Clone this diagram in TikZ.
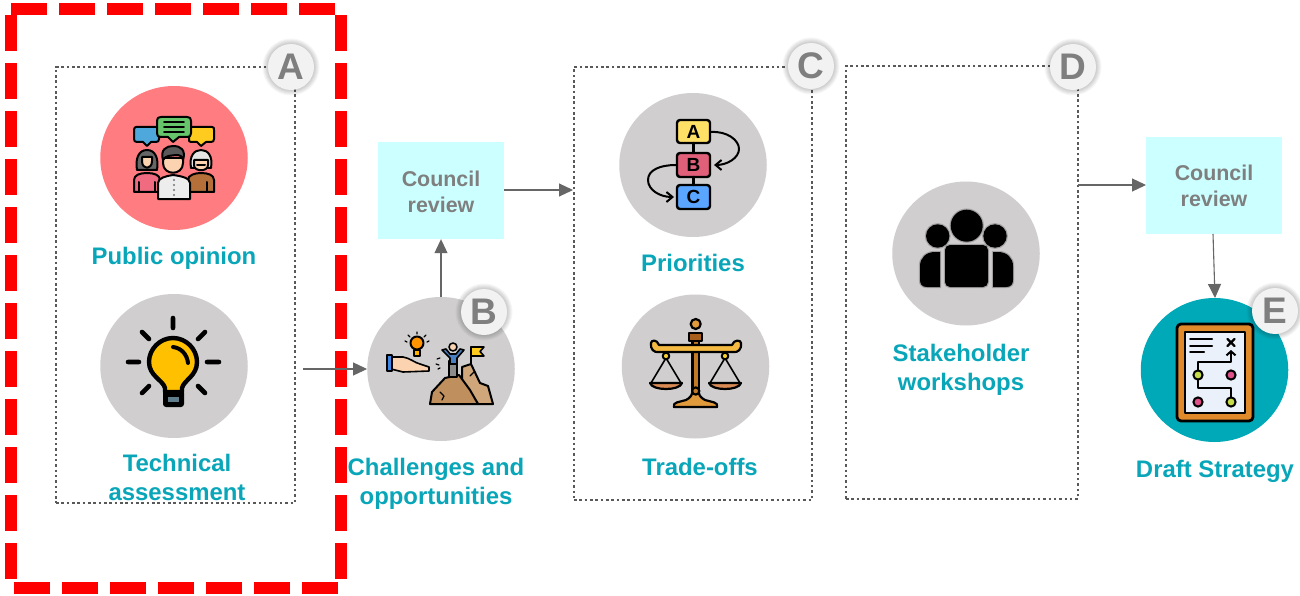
\documentclass[tikz,border=0pt]{standalone}
\usepackage{fontspec}
\setmainfont{Liberation Sans}
\usetikzlibrary{arrows.meta,shapes.geometric}
\definecolor{teal1}{HTML}{08A6B8}
\definecolor{discgray}{HTML}{D0CECE}
\definecolor{pubred}{HTML}{FF7C80}
\definecolor{discteal}{HTML}{00A9B8}
\definecolor{txtgray}{HTML}{7F7F7F}
\definecolor{linegray}{HTML}{595959}
\definecolor{conngray}{HTML}{666666}
\definecolor{boxcyan}{HTML}{CCFFFF}
\definecolor{skin}{HTML}{FBD3B0}
\definecolor{orangeb}{HTML}{E08A2C}
\definecolor{bubblue}{HTML}{4FA8DC}
\definecolor{bubyel}{HTML}{FFCB1F}
\definecolor{bubgrn}{HTML}{66C56A}
\definecolor{bulbyel}{HTML}{FFC000}
\definecolor{boxA}{HTML}{FFE066}
\definecolor{boxB}{HTML}{E0607A}
\definecolor{boxC}{HTML}{5AA5FF}
\definecolor{rockA}{HTML}{C08F5E}
\definecolor{rockB}{HTML}{CFA77A}
\definecolor{shirt}{HTML}{4A7FC1}
\definecolor{beam}{HTML}{F3B941}
\definecolor{pole}{HTML}{C17A25}
\definecolor{collar}{HTML}{A85F1D}
\definecolor{pan}{HTML}{D98A55}
\definecolor{basec}{HTML}{E09A3C}
\definecolor{paper}{HTML}{EAF1FB}
\definecolor{lime}{HTML}{C5DC4A}
\definecolor{pinkd}{HTML}{E0508A}
\definecolor{sockblue}{HTML}{607D8B}
\definecolor{womanp}{HTML}{F06A80}
\definecolor{manbr}{HTML}{B5703A}
\tikzset{
  x=1pt,y=-1pt,
  disc/.style={ellipse,minimum width=147.5pt,minimum height=144pt,inner sep=0pt,draw=none,fill=discgray},
  dotbox/.style={draw=linegray,line width=2.6pt,dash pattern=on 2.6pt off 2.73pt},
  badgeb/.style={circle,minimum size=46pt,inner sep=0pt,fill=#1,font=\fontsize{37}{37}\selectfont\bfseries,text=txtgray},
  lab/.style={text=teal1,font=\fontsize{23.9}{29}\selectfont\bfseries,align=center,inner sep=0pt},
  council/.style={fill=boxcyan,draw=none,inner sep=0pt,text=txtgray,font=\fontsize{21.4}{26}\selectfont\bfseries,align=center},
  conn/.style={draw=conngray,line width=1.1pt,-{Triangle[length=14pt,width=13pt]}},
  ic/.style={draw=black,line width=2pt,line join=round,line cap=round},
  icb/.style={draw=black,line width=2.8pt,line join=round,line cap=round},
  icl/.style={font=\fontsize{19}{19}\selectfont\bfseries,text=black,inner sep=0pt},
  halo/.style={preaction={draw=black,draw opacity=.22,line width=2.4pt}},
}
\newcommand{\softbadge}[3]{%
  \foreach \r in {28.5,27.5,26.5,25.5,24.5,23.5}{\fill[black,opacity=.035] (#2) circle[radius=\r pt];}
  \node[badgeb=white!94.9!black] (#1) at (#2) {#3};
}
\begin{document}
\begin{tikzpicture}
\useasboundingbox (0,0) rectangle (1300,596);
\fill[white] (0,0) rectangle (1300,596);
% red frame
\draw[draw=red,line width=12pt,dash pattern=on 36pt off 12pt] (11,9) -- (341,9) -- (341,588) -- (11,588) -- cycle;
% dotted groups
\node[dotbox,minimum width=239pt,minimum height=436pt,inner sep=0pt] (groupA) at (175.5,285) {};
\node[dotbox,minimum width=238pt,minimum height=433pt,inner sep=0pt] (groupC) at (693,283.5) {};
\node[dotbox,minimum width=232pt,minimum height=433pt,inner sep=0pt] (groupD) at (962,282.5) {};
% discs
\node[disc,fill=pubred] (pub) at (174,158) {};
\node[disc] (tech) at (174,366) {};
\node[disc] (chal) at (441,369) {};
\node[disc] (prio) at (693,165) {};
\node[disc] (trade) at (695.5,366.5) {};
\node[disc] (stake) at (966,253.5) {};
\node[disc,fill=discteal] (draft) at (1214.5,370) {};
% council boxes
\node[council,minimum width=126pt,minimum height=97pt] (rev1) at (441,190.5) {};
\node[council,fill=none] (rev1text) at (441,191.5) {Council\\review};
\node[council,minimum width=136pt,minimum height=97pt] (rev2) at (1214,185.5) {Council\\review};
% connectors
\coordinate (fromA) at (303,369);
\coordinate (intoC) at (573,190);
\coordinate (fromD) at (1078,185);
\coordinate (intoRev2) at (1146,185);
\coordinate (intoDraft) at (1215,298);
\coordinate (fromRev2) at (1213,234);
\coordinate (fromRev1) at (504,190);
\draw[conn] (fromA) -- (chal.west);
\draw[conn] (chal.north) -- (rev1.south);
\draw[conn] (fromRev1) -- (intoC);
\draw[conn] (fromD) -- (intoRev2);
\draw[conn] (fromRev2) -- (intoDraft);
% labels
\node[lab] (lPub) at (174,258) {Public opinion};
\node[lab] (lTech) at (177,477.5) {Technical\\assessment};
\node[lab] (lChal) at (436,483.5) {Challenges and\\opportunities};
\node[lab] (lPrio) at (693,263) {Priorities};
\node[lab] (lTrade) at (700,467) {Trade-offs};
\node[lab] (lStake) at (961,369.5) {Stakeholder\\workshops};
\node[lab] (lDraft) at (1215,471) {Draft Strategy};
%
% ---- icon: public opinion
\filldraw[ic,fill=bubblue] (136,127) -- (157,127) .. controls (159,127) and (159,128) .. (159,130) -- (159,139) .. controls (159,141) and (158,142) .. (156,142) -- (151,142) -- (147,146) -- (143,142) -- (137,142) .. controls (135,142) and (134,141) .. (134,139) -- (134,130) .. controls (134,128) and (135,127) .. (136,127) -- cycle;
\filldraw[ic,fill=bubyel] (191,127) -- (212,127) .. controls (214,127) and (214,128) .. (214,130) -- (214,139) .. controls (214,141) and (213,142) .. (211,142) -- (206,142) -- (201,146) -- (197,142) -- (191,142) .. controls (189,142) and (189,141) .. (189,139) -- (189,130) .. controls (189,128) and (189,127) .. (191,127) -- cycle;
\filldraw[ic,fill=bubgrn] (161,117) -- (187,117) .. controls (190,117) and (191,118) .. (191,121) -- (191,133) .. controls (191,136) and (190,137) .. (187,137) -- (179,137) -- (173,142) -- (168,137) -- (161,137) .. controls (158,137) and (157,136) .. (157,133) -- (157,121) .. controls (157,118) and (158,117) .. (161,117) -- cycle;
\draw[ic,line width=1.8pt] (164,122) -- (184,122) (164,127) -- (184,127) (164,132) -- (184,132);
% left woman
\filldraw[ic,fill=black!60] (137,170) .. controls (135,158) and (139,150) .. (147,150) .. controls (155,150) and (159,158) .. (157,170) -- cycle;
\filldraw[ic,fill=skin] (142,161) .. controls (142,170) and (152,170) .. (152,161) -- (152,157) -- (142,157) -- cycle;
\filldraw[ic,fill=womanp] (134,192) -- (134,180) .. controls (134,175) and (140,173) .. (147,173) .. controls (154,173) and (160,175) .. (160,180) -- (160,192) -- cycle;
\draw[ic] (139,182) -- (139,192) (155,182) -- (155,192);
% right man
\filldraw[ic,fill=white!90!black] (191,168) .. controls (189,156) and (194,150) .. (201,150) .. controls (208,150) and (213,156) .. (211,168) -- cycle;
\filldraw[ic,fill=skin] (194,160) -- (208,160) -- (208,165) .. controls (208,172) and (194,172) .. (194,165) -- cycle;
\draw[ic] (197,165) -- (205,165);
\filldraw[ic,fill=manbr] (188,192) -- (188,180) .. controls (188,175) and (195,173) .. (201,173) .. controls (208,173) and (214,175) .. (214,180) -- (214,192) -- cycle;
\draw[ic] (207,182) -- (207,192);
% middle man
\filldraw[ic,fill=skin] (163,158) -- (183,158) -- (183,163) .. controls (183,176) and (163,176) .. (163,163) -- cycle;
\filldraw[ic,fill=black!65] (163,160) .. controls (160,150) and (166,146) .. (173,146) .. controls (181,146) and (186,150) .. (183,160) .. controls (182,156) and (180,155) .. (176,155) .. controls (170,156) and (166,155) .. (163,160) -- cycle;
\filldraw[ic,fill=black!7] (158,199) -- (158,183) .. controls (158,178) and (166,176) .. (173,175) .. controls (181,176) and (190,178) .. (190,183) -- (190,199) -- cycle;
\foreach \yy in {180,185,190,195}{\fill[black!55] (174,\yy) circle[radius=1.1pt];}
%
% ---- icon: bulb
\draw[icb,line width=4.6pt] (173,318) -- (173,328) (128,362) -- (139,362) (207,362) -- (219,362) (142,332) -- (149,339) (205,332) -- (198,339) (142,393) -- (149,386) (205,393) -- (198,386);
\filldraw[icb,line width=4.4pt,fill=bulbyel] (165,392) -- (165,388) .. controls (163,380) and (149,376) .. (149,362) .. controls (149,349) and (160,338) .. (173,338) .. controls (186,338) and (197,349) .. (197,362) .. controls (197,376) and (184,380) .. (182,388) -- (182,392) -- cycle;
\fill[black,rounded corners=3pt] (163,390) rectangle (184,407);
\fill[sockblue] (168,397) rectangle (179,402);
\draw[icb,line width=4pt] (173,347) .. controls (181,348) and (187,354) .. (188,363);
%
% ---- icon: challenges
\filldraw[ic,line width=1.6pt,fill=skin] (391,357) -- (403,357) .. controls (410,358) and (415,363) .. (420,364) -- (429,367) -- (429,371) -- (403,372) -- (391,369) -- cycle;
\filldraw[ic,line width=1.6pt,fill=bubblue!80!blue] (387,355) rectangle (392,371);
\filldraw[ic,fill=orange!85!yellow] (417,343) circle[radius=6.5pt];
\filldraw[ic,fill=orange!60!yellow] (414,350) rectangle (420,356);
\draw[ic,line width=1.2pt] (405,341) -- (407,342) (429,341) -- (427,342) (408,335) -- (410,337) (426,335) -- (424,337) (417,332) -- (417,334) (437,359) -- (440,358) (436,364) -- (439,365) (438,369) -- (440,368);
\filldraw[ic,fill=rockB] (462,367) -- (471,364) -- (480,383) -- (488,386) -- (493,404) -- (478,404) -- (462,380) -- cycle;
\filldraw[ic,fill=rockA] (430,404) -- (432,392) -- (445,378) -- (459,375) -- (470,390) -- (478,404) -- cycle;
\filldraw[ic,fill=black!45] (449,361) rectangle (457,377);
\filldraw[ic,line width=1.6pt,fill=shirt] (442,350) -- (450,358) -- (450,364) -- (457,364) -- (457,358) -- (464,350) -- (460,349) -- (456,354) -- (450,354) -- (446,349) -- cycle;
\filldraw[ic,line width=1.6pt,fill=skin] (453,347) circle[radius=4pt];
\draw[ic] (471,364) -- (471,347);
\filldraw[ic,line width=1.6pt,fill=bubyel] (471,347) -- (484,347) -- (480,351.5) -- (484,356) -- (471,356) -- cycle;
\draw[ic,line width=1.2pt] (440,392) -- (444,396) -- (442,400) (474,372) -- (470,376);
%
% ---- icon: priorities
\filldraw[ic,line width=2.4pt,fill=boxA,rounded corners=3pt] (677,120) rectangle (710,143);
\filldraw[ic,line width=2.4pt,fill=boxB,rounded corners=3pt] (677,153) rectangle (710,177);
\filldraw[ic,line width=2.4pt,fill=boxC,rounded corners=3pt] (677,185) rectangle (710,209);
\draw[ic,line width=2.4pt] (693.5,143) -- (693.5,153) (693.5,177) -- (693.5,185);
\node[icl] (lA) at (693.5,132) {A};
\node[icl] (lB) at (693.5,165) {B};
\node[icl] (lC) at (693.5,197) {C};
\draw[ic,-{Straight Barb[length=6pt,width=10pt]}] (711,132) .. controls (727,131) and (739,140) .. (739,149) .. controls (739,158) and (727,165) .. (714,165);
\draw[ic,-{Straight Barb[length=6pt,width=10pt]}] (676,165) .. controls (660,165) and (648,170) .. (648,180) .. controls (648,190) and (660,197) .. (674,197);
%
% ---- icon: scales
\filldraw[ic,line width=2.2pt,fill=pole] (692.5,341) rectangle (699,392);
\filldraw[ic,line width=2.2pt,fill=collar] (689,333) rectangle (702,341);
\filldraw[ic,line width=2.2pt,fill=basec] (695.7,324) circle[radius=5pt];
\draw[ic,line width=1.6pt] (666,358) -- (651,383) (666,358) -- (681,383) (725,358) -- (710,383) (725,358) -- (740,383);
\filldraw[ic,line width=2.2pt,fill=beam] (651,343) .. controls (651,340) and (657,339) .. (659,345) -- (732,345) .. controls (734,339) and (741,340) .. (741,343) .. controls (742,349) and (738,353) .. (733,352) -- (659,352) .. controls (654,353) and (650,349) .. (651,343) -- cycle;
\filldraw[ic,fill=beam!70!yellow] (666,356) circle[radius=3.3pt];
\filldraw[ic,fill=beam!70!yellow] (725,356) circle[radius=3.3pt];
\filldraw[ic,line width=2.2pt,fill=pan] (650,383) -- (682,383) .. controls (680,391) and (652,391) .. (650,383) -- cycle;
\filldraw[ic,line width=2.2pt,fill=pan] (709,383) -- (741,383) .. controls (739,391) and (711,391) .. (709,383) -- cycle;
\filldraw[ic,line width=2.2pt,fill=basec] (674,407) .. controls (672,402) and (680,402) .. (686,400) .. controls (690,398) and (692,395) .. (692,393) -- (699,393) .. controls (699,395) and (701,398) .. (705,400) .. controls (711,402) and (719,402) .. (717,407) -- cycle;
\filldraw[ic,line width=2.2pt,fill=pole] (695.7,391) circle[radius=3.6pt];
%
% ---- icon: people
\fill[black,halo] (966.7,225.7) circle[radius=16pt];
\fill[black,halo] (937.7,236) circle[radius=11.7pt];
\fill[black,halo] (995,236) circle[radius=11.7pt];
\fill[black,rounded corners=5pt,halo] (945,245) rectangle (988,287);
\fill[black,halo] (920,266) .. controls (920,258) and (926,252) .. (935,252) -- (940,252) -- (940,287) -- (927,287) .. controls (922,287) and (920,284) .. (920,280) -- cycle;
\fill[black,halo] (1013,266) .. controls (1013,258) and (1007,252) .. (998,252) -- (993,252) -- (993,287) -- (1006,287) .. controls (1011,287) and (1013,284) .. (1013,280) -- cycle;
%
% ---- icon: draft strategy
\filldraw[icb,fill=orangeb,rounded corners=4pt] (1177,324) rectangle (1253,421);
\filldraw[ic,line width=2.4pt,fill=paper] (1185,332) rectangle (1245,413);
\draw[ic] (1190,339) -- (1212,339) (1190,346) -- (1212,346) (1190,352) -- (1204,352);
\draw[ic,line width=2.2pt] (1227.5,339) -- (1234.5,346) (1234.5,339) -- (1227.5,346);
\draw[ic,-{Straight Barb[length=4pt,width=9pt]}] (1198,375) -- (1198,362) -- (1231,362) -- (1231,350);
\draw[ic] (1198,375) -- (1198,388) -- (1231,388) -- (1231,402);
\filldraw[ic,fill=lime] (1198,375) circle[radius=4.6pt];
\filldraw[ic,fill=pinkd] (1231,375) circle[radius=4.6pt];
\filldraw[ic,fill=pinkd] (1198,402) circle[radius=4.6pt];
\filldraw[ic,fill=lime] (1231,402) circle[radius=4.6pt];
%
% ---- badges
\softbadge{bA}{291,67}{A}
\softbadge{bB}{484,312}{B}
\softbadge{bC}{811,66}{C}
\softbadge{bD}{1073,67}{D}
\softbadge{bE}{1275,311}{E}
\end{tikzpicture}
\end{document}
